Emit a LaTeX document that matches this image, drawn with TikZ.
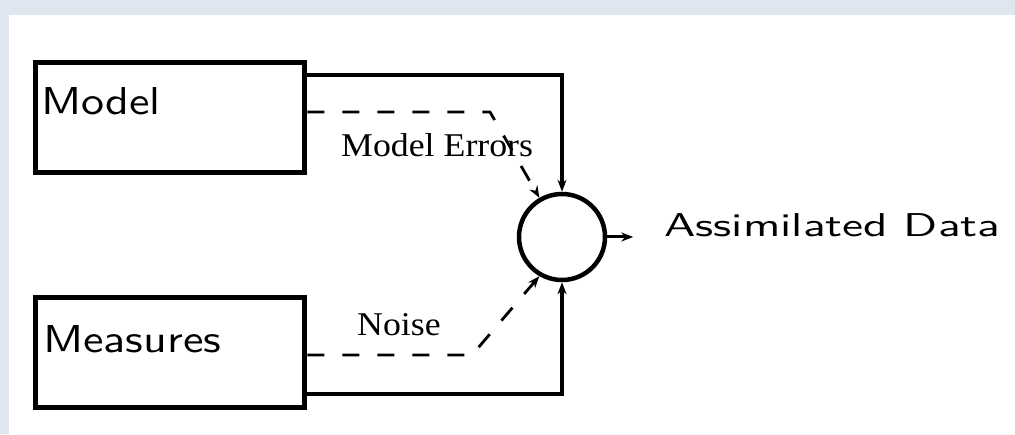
\documentclass[tikz,border=0pt]{standalone}
\usepackage{graphicx}
\usepackage{fontspec}
\newfontfamily\serifl{Liberation Serif}
\usetikzlibrary{arrows.meta,calc}
\definecolor{bgframe}{HTML}{DFE6F0}
\begin{document}
\begin{tikzpicture}[x=1pt,y=1pt,
  box/.style={draw,line width=5.5pt,minimum width=269pt,minimum height=110pt,inner sep=0pt},
  txt/.style={anchor=base west,inner sep=0pt},
  tip/.style={-{Stealth[length=12pt,width=9pt]}},
  solidc/.style={line width=3.5pt,tip},
  dashc/.style={line width=2.8pt,dash pattern=on 17pt off 18pt,tip},
  sumnode/.style={draw,line width=4.5pt,circle,minimum size=86pt,inner sep=0pt}]
\newcommand{\sansbig}[1]{\scalebox{4.6}[3.89]{\sffamily\fontsize{10}{12}\selectfont #1}}
\newcommand{\sansout}[1]{\scalebox{4.72}[3.3]{\sffamily\fontsize{10}{12}\selectfont #1}}
\newcommand{\seriflab}[1]{\scalebox{3.58}[3.32]{\serifl\fontsize{10}{12}\selectfont #1}}
\useasboundingbox (0,0) rectangle (1015,434);
\fill[bgframe] (0,0) rectangle (1015,434);
\fill[white] (9,0) rectangle (1015,419);
\node[box] (model) at (170,316.5) {};
\node[txt] (modeltxt) at (41,319) {\sansbig{Model}};
\node[box] (meas) at (170,81.5) {};
\node[txt] (meastxt) at (43,82) {\sansbig{Measures}};
\node[sumnode] (sum) at (562,197) {};
\node[txt] (out) at (664,197) {\sansout{Assimilated Data}};
\coordinate (mbend) at (490,322);
\coordinate (nbend) at (472,79);
\draw[solidc] (model.east |- 0,359) -| (sum.north);
\draw[solidc] (meas.east |- 0,40) -| (sum.south);
\draw[dashc] (model.east |- mbend) -- (mbend) -- (sum.120);
\draw[dashc] (meas.east |- nbend) -- (nbend) -- (sum.240);
\draw[line width=3pt,tip] (sum.east) -- ++(26,0) coordinate (outend);
\node[txt] (merr) at (341,277) {\seriflab{Model Errors}};
\node[txt] (noise) at (357,99) {\seriflab{Noise}};
\end{tikzpicture}
\end{document}
